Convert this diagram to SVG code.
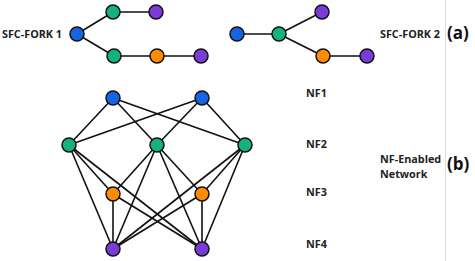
<svg xmlns="http://www.w3.org/2000/svg" width="475" height="261" viewBox="0 0 475 261">
<style>
.n{stroke:#111;stroke-width:1.5}
.b{fill:#1565e3}.g{fill:#16b27c}.p{fill:#7a3bd8}.o{fill:#ff8c00}
.e line{stroke:#111;stroke-width:1.6}
text{font-family:"Open Sans","Noto Sans",sans-serif;font-weight:bold;fill:#222}
.l{font-size:10.8px}.big{font-size:17px;fill:#111}
</style>
<rect width="475" height="261" fill="#fff"/>
<line x1="445.5" y1="0" x2="445.5" y2="261" stroke="#ddd" stroke-width="1"/>
<g id="connectors" class="e">
<line x1="77" y1="34" x2="113" y2="12"/><line x1="113" y1="12" x2="156" y2="12"/>
<line x1="77" y1="34" x2="114" y2="56"/><line x1="114" y1="56" x2="157" y2="56"/><line x1="157" y1="56" x2="201" y2="56"/>
<line x1="237" y1="34" x2="279" y2="34"/><line x1="279" y1="34" x2="322" y2="12"/><line x1="279" y1="34" x2="323" y2="56"/><line x1="323" y1="56" x2="367" y2="56"/>
<line x1="113" y1="98" x2="69" y2="145"/><line x1="113" y1="98" x2="157" y2="145"/><line x1="113" y1="98" x2="245" y2="145"/>
<line x1="202" y1="98" x2="69" y2="145"/><line x1="202" y1="98" x2="157" y2="145"/><line x1="202" y1="98" x2="245" y2="145"/>
<line x1="69" y1="145" x2="113" y2="194"/><line x1="69" y1="145" x2="113" y2="249"/><line x1="69" y1="145" x2="202" y2="249"/>
<line x1="157" y1="145" x2="113" y2="194"/><line x1="157" y1="145" x2="202" y2="194"/><line x1="157" y1="145" x2="113" y2="249"/><line x1="157" y1="145" x2="202" y2="249"/>
<line x1="245" y1="145" x2="202" y2="194"/><line x1="245" y1="145" x2="113" y2="249"/><line x1="245" y1="145" x2="202" y2="249"/>
<line x1="113" y1="194" x2="113" y2="249"/><line x1="113" y1="194" x2="202" y2="249"/><line x1="202" y1="194" x2="113" y2="249"/><line x1="202" y1="194" x2="202" y2="249"/>
</g>
<g id="fork1">
<circle id="f1b" class="n b" cx="77" cy="34" r="7"/>
<circle id="f1g1" class="n g" cx="113" cy="12" r="7"/>
<circle id="f1p1" class="n p" cx="156" cy="12" r="7"/>
<circle id="f1g2" class="n g" cx="114" cy="56" r="7"/>
<circle id="f1o" class="n o" cx="157" cy="56" r="7"/>
<circle id="f1p2" class="n p" cx="201" cy="56" r="7"/>
</g>
<g id="fork2">
<circle id="f2b" class="n b" cx="237" cy="34" r="7"/>
<circle id="f2g" class="n g" cx="279" cy="34" r="7"/>
<circle id="f2p1" class="n p" cx="322" cy="12" r="7"/>
<circle id="f2o" class="n o" cx="323" cy="56" r="7"/>
<circle id="f2p2" class="n p" cx="367" cy="56" r="7"/>
</g>
<g id="nf1"><circle class="n b" cx="113" cy="98" r="7"/><circle class="n b" cx="202" cy="98" r="7"/></g>
<g id="nf2"><circle class="n g" cx="69" cy="145" r="7"/><circle class="n g" cx="157" cy="145" r="7"/><circle class="n g" cx="245" cy="145" r="7"/></g>
<g id="nf3"><circle class="n o" cx="113" cy="194" r="7"/><circle class="n o" cx="202" cy="194" r="7"/></g>
<g id="nf4"><circle class="n p" cx="113" cy="249" r="7"/><circle class="n p" cx="202" cy="249" r="7"/></g>
<g id="labels">
<text class="l" x="2" y="38">SFC-FORK 1</text>
<text class="l" x="380" y="38">SFC-FORK 2</text>
<text class="big" x="447" y="39">(a)</text>
<text class="l" x="306" y="97">NF1</text>
<text class="l" x="306" y="148">NF2</text>
<text class="l" x="306" y="196">NF3</text>
<text class="l" x="306" y="248">NF4</text>
<text class="l" x="380" y="163">NF-Enabled</text>
<text class="l" x="380" y="178">Network</text>
<text class="big" x="447" y="170">(b)</text>
</g>
</svg>
